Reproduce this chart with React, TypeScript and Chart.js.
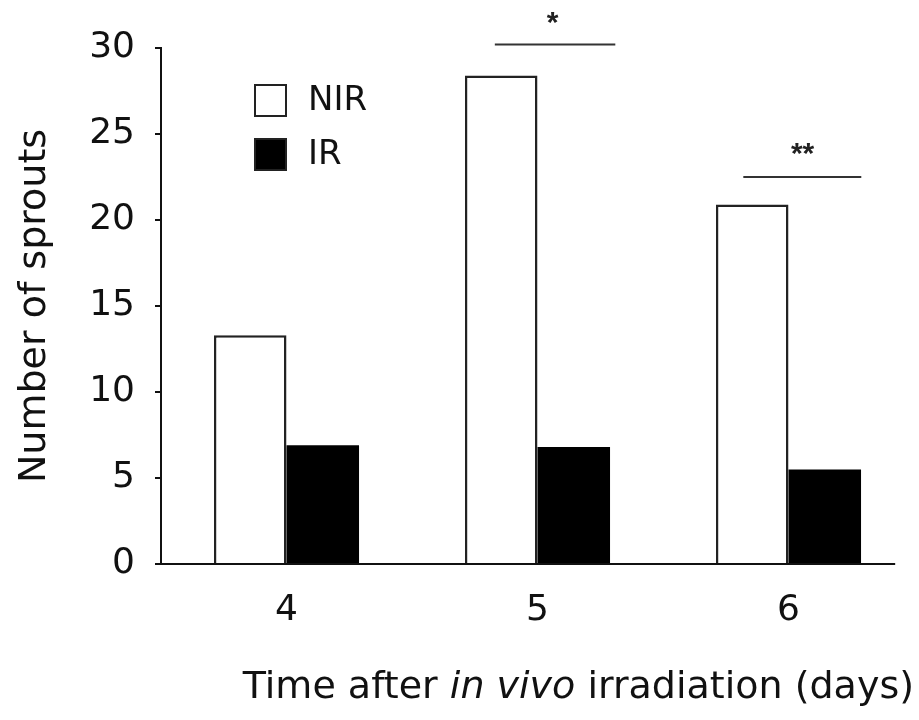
import React, { useEffect, useRef } from "react";
import { Chart, registerables } from "chart.js";

Chart.register(...registerables);

const categories = ["4", "5", "6"];
const nirValues = [13.3, 28.4, 20.9];
const irValues = [6.9, 6.8, 5.5];
const yTicks = [0, 5, 10, 15, 20, 25, 30];
const sigMarks = ["", "*", "**"];
const sigLineY = [null, 30.2, 22.5];
const sigStarY = [null, 31.9, 24.3];
const sigLineFrom = [0, -0.17, -0.18];
const sigLineTo = [0, 0.31, 0.29];
const sigStarAt = [0, 0.06, 0.056];

const FONT = "'DejaVu Sans', 'Liberation Sans', sans-serif";

export default function App() {
  const ref = useRef<HTMLCanvasElement | null>(null);

  useEffect(() => {
    document.body.style.margin = "0";
    const canvas = ref.current;
    if (!canvas) return;

    const overlay = {
      id: "overlay",
      afterDraw(chart: any) {
        const ctx = chart.ctx;
        const xs = chart.scales.x;
        const ys = chart.scales.y;
        const catW = xs.width / categories.length;
        ctx.save();
        // x axis line
        ctx.strokeStyle = "#111";
        ctx.lineWidth = 2;
        ctx.beginPath();
        const y0 = ys.getPixelForValue(0);
        ctx.moveTo(xs.left, y0);
        ctx.lineTo(xs.right - 0.075 * catW, y0);
        ctx.stroke();

        // significance
        ctx.strokeStyle = "#333";
        ctx.lineWidth = 2;
        ctx.fillStyle = "#222";
        ctx.font = "bold 30px 'Liberation Sans', sans-serif";
        ctx.textAlign = "center";
        ctx.textBaseline = "alphabetic";
        categories.forEach((_, i) => {
          if (sigLineY[i] == null) return;
          const cx = xs.getPixelForValue(i);
          const ly = ys.getPixelForValue(sigLineY[i] as number);
          ctx.beginPath();
          ctx.moveTo(cx + sigLineFrom[i] * catW, ly);
          ctx.lineTo(cx + sigLineTo[i] * catW, ly);
          ctx.stroke();
          ctx.fillText(sigMarks[i], cx + sigStarAt[i] * catW, ys.getPixelForValue(sigStarY[i] as number) + 17);
        });

        // legend
        const ds = chart.data.datasets;
        const boxX = 254, boxY = 84, boxS = 33, gap = 54;
        ds.forEach((d: any, k: number) => {
          const by = boxY + k * gap;
          ctx.fillStyle = d.backgroundColor;
          ctx.fillRect(boxX, by, boxS, boxS);
          ctx.strokeStyle = "#222";
          ctx.lineWidth = 2;
          ctx.strokeRect(boxX + 1, by + 1, boxS - 2, boxS - 2);
          ctx.fillStyle = "#111";
          ctx.font = `34px ${FONT}`;
          ctx.textAlign = "left";
          ctx.textBaseline = "middle";
          ctx.fillText(d.label, boxX + 54, by + boxS / 2 + 1);
        });

        // x title with italic part
        const parts = [
          { t: "Time after ", f: `38px ${FONT}` },
          { t: "in vivo", f: `italic 38px ${FONT}` },
          { t: " irradiation (days)", f: `38px ${FONT}` },
        ];
        let total = 0;
        parts.forEach((p) => {
          ctx.font = p.f;
          total += ctx.measureText(p.t).width;
        });
        let x = xs.right - total;
        ctx.fillStyle = "#111";
        ctx.textAlign = "left";
        ctx.textBaseline = "middle";
        parts.forEach((p) => {
          ctx.font = p.f;
          ctx.fillText(p.t, x, 688);
          x += ctx.measureText(p.t).width;
        });
        ctx.restore();
      },
    };

    const chart = new Chart(canvas, {
      type: "bar",
      data: {
        labels: categories,
        datasets: [
          {
            label: "NIR",
            data: nirValues,
            backgroundColor: "#ffffff",
            borderColor: "#222",
            borderWidth: 2.5,
            barPercentage: 1,
            categoryPercentage: 0.578,
          },
          {
            label: "IR",
            data: irValues,
            backgroundColor: "#000000",
            borderColor: "#000",
            borderWidth: 0,
            barPercentage: 1,
            categoryPercentage: 0.578,
          },
        ],
      },
      options: {
        responsive: false,
        animation: false,
        layout: { padding: { top: 48, right: 5, left: 0, bottom: 0 } },
        plugins: { legend: { display: false }, tooltip: { enabled: false } },
        scales: {
          x: {
            grid: { display: false, drawTicks: false },
            border: { display: false },
            ticks: { color: "#111", font: { family: FONT, size: 36 }, padding: 25 },
            afterFit: (s: any) => {
              s.height = 156;
            },
          },
          y: {
            min: 0,
            max: 30,
            afterBuildTicks: (s: any) => {
              s.ticks = yTicks.map((v) => ({ value: v }));
            },
            grid: { drawOnChartArea: false, drawTicks: true, tickLength: 6, color: "#111", lineWidth: 2 },
            border: { display: true, color: "#111", width: 2 },
            ticks: { color: "#111", font: { family: FONT, size: 36 }, padding: 20 },
            title: {
              display: true,
              text: "Number of sprouts",
              color: "#111",
              font: { family: FONT, size: 38 },
              padding: { top: 12, bottom: 0 },
            },
            afterFit: (s: any) => {
              s.width = 161;
            },
          },
        },
      },
      plugins: [overlay],
    });
    return () => chart.destroy();
  }, []);

  return (
    <div style={{ position: "absolute", left: 0, top: 0, width: 919, height: 720, background: "#fff" }}>
      <canvas ref={ref} width={919} height={720} />
    </div>
  );
}
